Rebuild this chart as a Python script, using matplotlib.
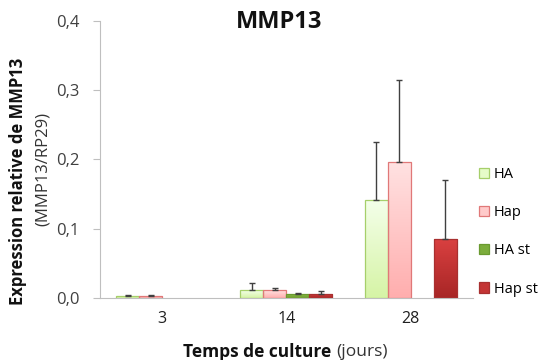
import matplotlib
matplotlib.use("Agg")
import matplotlib.pyplot as plt
import numpy as np
from matplotlib.colors import LinearSegmentedColormap
from matplotlib.patches import Patch

plt.rcParams['font.family'] = ['Open Sans', 'DejaVu Sans']

days = ["3", "14", "28"]
series = ["HA", "Hap", "HA st", "Hap st"]
values = {
    "HA":     [0.003, 0.0115, 0.1415],
    "Hap":    [0.003, 0.0115, 0.197],
    "HA st":  [np.nan, 0.0065, np.nan],
    "Hap st": [np.nan, 0.0065, 0.085],
}
errors = {
    "HA":     [0.001, 0.010, 0.084],
    "Hap":    [0.001, 0.003, 0.117],
    "HA st":  [np.nan, 0.0015, np.nan],
    "Hap st": [np.nan, 0.004, 0.085],
}
yticks = [0.0, 0.1, 0.2, 0.3, 0.4]

styles = {
    "HA":     dict(top="#f4ffea", bot="#d6f4a6", edge="#a6cf6a", legend="#e6fcc8"),
    "Hap":    dict(top="#ffe2e2", bot="#ffaeae", edge="#e07878", legend="#ffcaca"),
    "HA st":  dict(top="#8fc04a", bot="#6f9f30", edge="#6a9a30", legend="#7cad3c"),
    "Hap st": dict(top="#d94040", bot="#a82626", edge="#a83030", legend="#c43535"),
}

fig = plt.figure(figsize=(5.39, 3.6), dpi=100)
ax = fig.add_axes([0.1855, 0.172, 0.692, 0.770])

x = np.arange(len(days))
w = 0.185
offsets = (np.arange(len(series)) - 1.5) * w

for i, s in enumerate(series):
    st = styles[s]
    vals = np.array(values[s], dtype=float)
    errs = np.array(errors[s], dtype=float)
    bars = ax.bar(x + offsets[i], np.nan_to_num(vals), w, color=st["legend"],
                  edgecolor=st["edge"], linewidth=0.9, zorder=2)
    cmap = LinearSegmentedColormap.from_list(s, [st["bot"], st["top"]])
    grad = np.linspace(0, 1, 64).reshape(-1, 1)
    for b, v in zip(bars, vals):
        if np.isnan(v):
            b.set_visible(False)
            continue
        x0, y0 = b.get_x(), b.get_y()
        im = ax.imshow(grad, cmap=cmap, aspect='auto', origin='lower',
                       extent=[x0, x0 + b.get_width(), y0, y0 + b.get_height()],
                       zorder=2.5, interpolation='bilinear')
        im.set_clip_path(b)
        b.set_facecolor('none')
        b.set_zorder(3)
    mask = ~np.isnan(vals)
    ax.errorbar((x + offsets[i])[mask], vals[mask],
                yerr=[np.zeros(mask.sum()), errs[mask]],
                fmt='none', ecolor='#404040', elinewidth=1.0, capsize=2.2,
                capthick=1.0, zorder=4)

ax.set_xlim(-0.5, len(days) - 0.5)
ax.set_ylim(0, 0.4)
ax.set_yticks(yticks)
ax.set_yticklabels([f"{t:.1f}".replace('.', ',') for t in yticks], fontsize=12, color='#404040')
ax.set_xticks(x)
ax.set_xticklabels(days, fontsize=11.5, color='#202020')
ax.tick_params(axis='x', length=0, pad=9)
ax.tick_params(axis='y', length=5, color='#bfbfbf', width=0.8, pad=10)
for sp in ['top', 'right']:
    ax.spines[sp].set_visible(False)
for sp in ['left', 'bottom']:
    ax.spines[sp].set_color('#bfbfbf')
    ax.spines[sp].set_linewidth(0.8)

# title
fig.text(0.518, 0.939, "MMP13", ha='center', va='center', fontsize=17, fontweight='bold', color='#111111')

# y label
fig.text(0.034, 0.495, "Expression relative de MMP13", rotation=90, ha='center', va='center',
         fontsize=12, fontweight='bold', color='#111111')
fig.text(0.079, 0.53, "(MMP13/RP29)", rotation=90, ha='center', va='center',
         fontsize=12, color='#333333')

# x label
fig.text(0.623, 0.022, "Temps de culture ", ha='right', va='center', fontsize=12.5,
         fontweight='bold', color='#111111')
fig.text(0.623, 0.022, "(jours)", ha='left', va='center', fontsize=12.5, color='#333333')

handles = [Patch(facecolor=styles[s]["legend"], edgecolor=styles[s]["edge"], linewidth=0.9)
           for s in series]
fig.legend(handles, series, loc='upper left', bbox_to_anchor=(0.888, 0.535),
           frameon=False, fontsize=10.5, handlelength=0.7, handleheight=0.7,
           handletextpad=0.35, labelspacing=1.58, borderpad=0, borderaxespad=0)

fig.savefig("out.png", dpi=100)
